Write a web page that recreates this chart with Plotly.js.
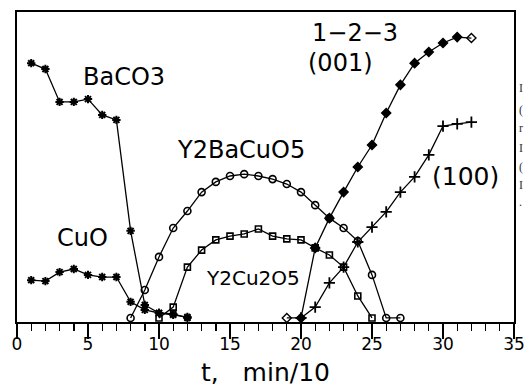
<!DOCTYPE html>
<html>
<head>
<meta charset="utf-8">
<script src="https://cdn.plot.ly/plotly-3.0.1.min.js"></script>
<style>
  html, body { margin: 0; padding: 0; background: #ffffff; }
  #chart { width: 526px; height: 387px; }
</style>
</head>
<body>
<div id="chart"></div>
<script>
// time axis, t in min/10
const tBaCO3 = [1, 2, 3, 4, 5, 6, 7, 8, 9, 10, 11, 12];
const yBaCO3 = [83.5, 81.6, 71, 71, 71.9, 66.8, 65.2, 29.4, 5.5, 2.9, 2.3, 1.6];

const tCuO = [1, 2, 3, 4, 5, 6, 7, 8, 9, 10, 11, 12];
const yCuO = [13.5, 13.2, 16.1, 17.1, 15.2, 14.5, 14.5, 6.5, 3.9, 2.9, 2.6, 1.3];

const tY2BaCuO5 = [8, 9, 10, 11, 12, 13, 14, 15, 16, 17, 18, 19, 20, 21, 22, 23, 24, 25, 26, 27];
const yY2BaCuO5 = [1.3, 10.3, 21, 30.3, 35.8, 41.9, 45.2, 47.1, 47.7, 47.1, 46.1, 44.5, 41.9, 37.7, 33.5, 30.3, 26.1, 15.2, 1.3, 1.3];

const tY2Cu2O5 = [10, 11, 12, 13, 14, 15, 16, 17, 18, 19, 20, 21, 22, 23, 24, 25];
const yY2Cu2O5 = [1.3, 4.8, 17.7, 23.2, 26.5, 27.7, 28.4, 30, 27.7, 26.8, 26.5, 23.9, 21.6, 17.7, 8.4, 1.3];

const t123_001 = [19, 20, 21, 22, 23, 24, 25, 26, 27, 28, 29, 30, 31, 32];
const y123_001 = [1.3, 1.3, 23.9, 33.5, 41.9, 50, 57.1, 67.4, 76.5, 83.5, 87.1, 90, 91.9, 91.6];

const t123_100 = [20, 21, 22, 23, 24, 25, 26, 27, 28, 29, 30, 31, 32];
const y123_100 = [1.3, 4.8, 12.6, 17.7, 25.8, 30.6, 35.5, 41.9, 46.8, 53.9, 63.2, 63.9, 64.5];

const xTicks = [0, 5, 10, 15, 20, 25, 30, 35];
const xTickText = ['0', '5', '10', '15', '20', '25', '30', '35'];

const lineStyle = {color: '#000000', width: 1.3};

const sym001 = t123_001.map((v, i) => (i === 0 || i === t123_001.length - 1) ? 'diamond-open' : 'diamond');

const traces = [
  {x: tBaCO3, y: yBaCO3, mode: 'lines+markers', line: lineStyle,
   marker: {symbol: 'asterisk-open', size: 7, color: '#000', line: {color: '#000', width: 2}}},
  {x: tCuO, y: yCuO, mode: 'lines+markers', line: lineStyle,
   marker: {symbol: 'asterisk-open', size: 7, color: '#000', line: {color: '#000', width: 2}}},
  {x: tY2BaCuO5, y: yY2BaCuO5, mode: 'lines+markers', line: lineStyle,
   marker: {symbol: 'circle-open', size: 7, color: '#000', line: {color: '#000', width: 1.6}}},
  {x: tY2Cu2O5, y: yY2Cu2O5, mode: 'lines+markers', line: lineStyle,
   marker: {symbol: 'square-open', size: 6, color: '#000', line: {color: '#000', width: 1.6}}},
  {x: t123_001, y: y123_001, mode: 'lines+markers', line: lineStyle,
   marker: {symbol: sym001, size: 7, color: '#000', line: {color: '#000', width: 1.4}}},
  {x: t123_100, y: y123_100, mode: 'lines+markers', line: lineStyle,
   marker: {symbol: 'cross-thin-open', size: 8, color: '#000', line: {color: '#000', width: 1.8}}}
];

const labelFont = {family: 'DejaVu Sans', size: 24, color: '#000'};
function lab(text, x, y, size) {
  return {text: text, x: x, y: y, xref: 'x', yref: 'y', showarrow: false,
          xanchor: 'center', yanchor: 'middle',
          font: Object.assign({}, labelFont, size ? {size: size} : {})};
}

const edgeChars = ['I', '(', 'r', 'I', '(', 'I', '.'];
const edgeY = [88, 110, 128, 148, 167, 185, 202];

const annotations = [
  lab('BaCO3', 7.5, 79),
  lab('1\u22122\u22123', 23.8, 93.2),
  lab('(001)', 22.8, 83.5),
  lab('Y2BaCuO5', 15.8, 55.5),
  lab('CuO', 4.6, 27.1),
  lab('Y2Cu2O5', 16.6, 14.2, 20),
  lab('(100)', 31.6, 46.8, 25)
].concat(edgeChars.map((c, i) => ({
  text: c, xref: 'paper', yref: 'paper', x: 1.014, y: (322 - edgeY[i]) / 310,
  showarrow: false, xanchor: 'center', yanchor: 'middle',
  font: {family: 'Liberation Serif', size: 12, color: '#333'}
})));

const layout = {
  width: 526, height: 387,
  margin: {l: 17, r: 12, t: 12, b: 65},
  paper_bgcolor: '#ffffff', plot_bgcolor: '#ffffff',
  showlegend: false,
  xaxis: {
    range: [0, 35], tickvals: xTicks, ticktext: xTickText,
    ticks: 'outside', ticklen: 15, tickwidth: 1.6, tickcolor: '#000',
    ticklabelstandoff: -9,
    minor: {dtick: 1, ticks: 'outside', ticklen: 7, tickwidth: 1.4, tickcolor: '#000', showgrid: false},
    showline: true, linecolor: '#000', linewidth: 2, mirror: true,
    showgrid: false, zeroline: false,
    tickfont: {family: 'DejaVu Sans', size: 17, color: '#000'},
    title: {text: 't,   min/10', font: {family: 'DejaVu Sans', size: 25, color: '#000'}, standoff: 14}
  },
  yaxis: {
    range: [0, 100], showticklabels: false, ticks: '',
    showline: true, linecolor: '#000', linewidth: 2, mirror: true,
    showgrid: false, zeroline: false
  },
  annotations: annotations
};

Plotly.newPlot('chart', traces, layout, {displayModeBar: false, staticPlot: true});
</script>
</body>
</html>
